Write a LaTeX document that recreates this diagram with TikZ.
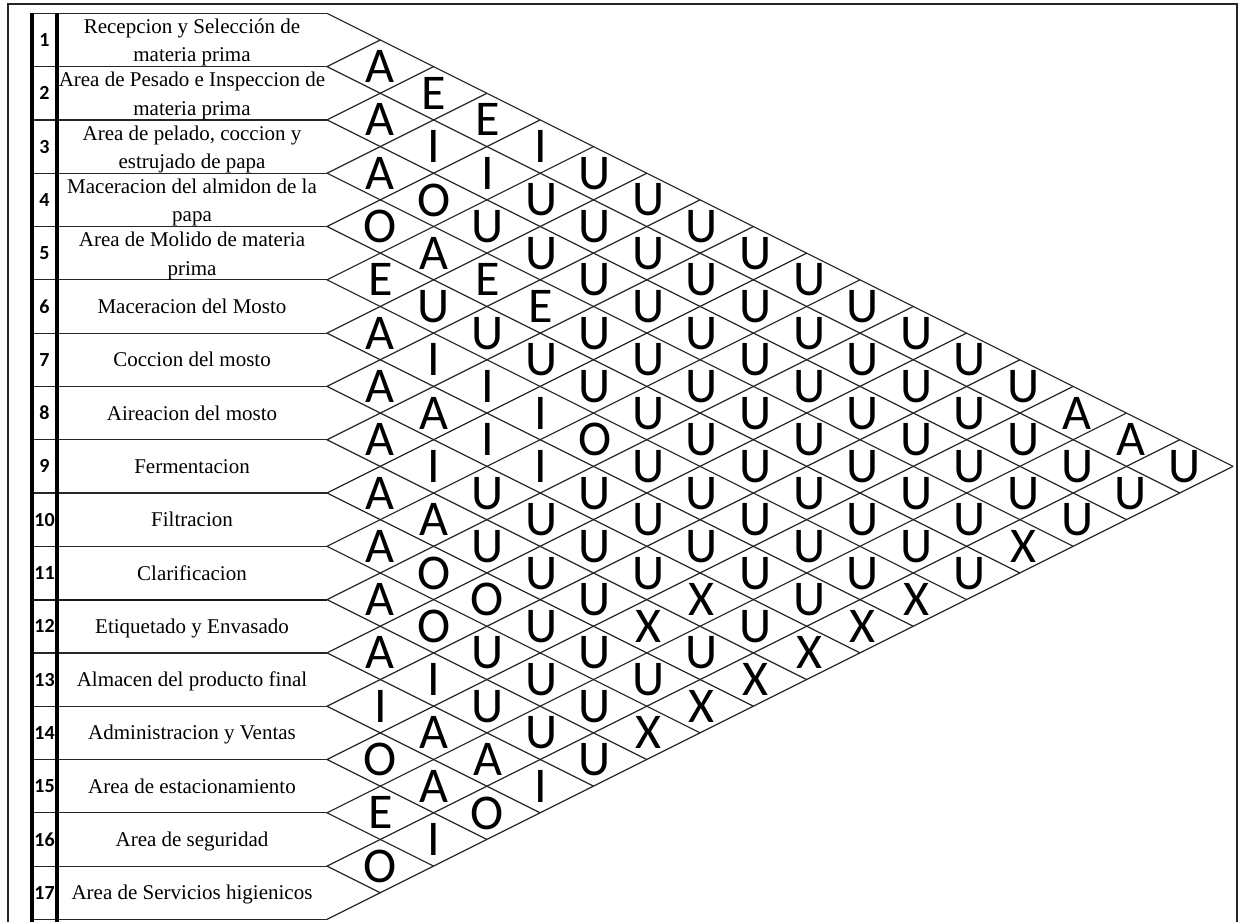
\documentclass[tikz,border=0pt]{standalone}
\usepackage{fontspec}
\setmainfont{Liberation Serif}
\newfontfamily\calib{Carlito}
\begin{document}
\begin{tikzpicture}[x=1pt,y=-1pt]
\def\h{53.3}
\def\yt{13.3}
\def\xl{327}
\tikzset{
 gridline/.style={draw=black!85, line width=1.2pt},
 midline/.style={draw=black!90, line width=2pt},
 frameline/.style={draw=black!85, line width=2pt},
 thickline/.style={draw=black, line width=3.2pt},
 lbl/.style={font=\fontsize{21}{21}\selectfont, anchor=base, inner sep=0pt},
 num/.style={font=\calib\bfseries\fontsize{20}{20}\selectfont, inner sep=0pt},
 rel/.style={font=\calib\fontsize{50}{50}\selectfont, inner sep=0pt, text depth=0pt},
}
\useasboundingbox (0,0) rectangle (1241,921);
% outer frame
\draw[frameline] (8.3,925) -- (8.3,4.3) -- (1237,4.3) -- (1237,925);
% grid: horizontal row lines and the two families of diagonals
\foreach \b in {0,...,17}{
  \pgfmathsetmacro{\yb}{\yt+\h*\b}
  \pgfmathsetmacro{\xu}{\xl+\h*\b}
  \pgfmathsetmacro{\yu}{\yb-\h*\b/2}
  \pgfmathsetmacro{\xd}{\xl+\h*(17-\b)}
  \pgfmathsetmacro{\yd}{\yb+\h*(17-\b)/2}
  \draw[gridline] (32,\yb) -- (\xl,\yb);
  \draw[gridline] (\xu,\yu) -- (\xl,\yb) -- (\xd,\yd);
}
\draw[midline] (32,{\yt+11*\h}) -- (\xl,{\yt+11*\h});
% thick verticals
\draw[thickline] (32,\yt) -- (32,925);
\draw[thickline] (57,\yt) -- (57,925);
% numbers
\foreach \n in {1,...,17}{
  \node[num] (n\n) at (44.5,{\yt+\h*(\n-0.5)}) {\n};
}
% two-line labels
\foreach \n/\la/\lb in {1/{Recepcion y Selección de}/{materia prima},
  2/{Area de Pesado e Inspeccion de}/{materia prima},
  3/{Area de pelado, coccion y}/{estrujado de papa},
  4/{Maceracion del almidon de la}/{papa},
  5/{Area de Molido de materia}/{prima}}{
  \node[lbl] (la\n) at (192,{\yt+\h*(\n-1)+20.3}) {\la};
  \node[lbl] (lb\n) at (192,{\yt+\h*(\n-1)+48.5}) {\lb};
}
% one-line labels
\foreach \n/\la in {6/{Maceracion del Mosto},7/{Coccion del mosto},
  8/{Aireacion del mosto},9/{Fermentacion},10/{Filtracion},
  11/{Clarificacion},12/{Etiquetado y Envasado},
  13/{Almacen del producto final},14/{Administracion y Ventas},
  15/{Area de estacionamiento},16/{Area de seguridad},
  17/{Area de Servicios higienicos}}{
  \node[lbl] (la\n) at (192,{\yt+\h*(\n-1)+33.7}) {\la};
}
% relationship letters, column k = j - i
\foreach \k/\lst in {
  1/{A,A,A,O,E,A,A,A,A,A,A,A,I,O,E,O},
  2/{E,I,O,A,U,I,A,I,A,O,O,I,A,A,I},
  3/{E,I,U,E,U,I,I,U,U,O,U,U,A,O},
  4/{I,U,U,E,U,I,I,U,U,U,U,U,I},
  5/{U,U,U,U,U,O,U,U,U,U,U,U},
  6/{U,U,U,U,U,U,U,U,X,U,X},
  7/{U,U,U,U,U,U,U,X,U,X},
  8/{U,U,U,U,U,U,U,U,X},
  9/{U,U,U,U,U,U,U,X},
  10/{U,U,U,U,U,U,X},
  11/{U,U,U,U,U,X},
  12/{U,U,U,U,U},
  13/{U,U,U,X},
  14/{A,U,U},
  15/{A,U},
  16/{U}}{
  \foreach \L [count=\i] in \lst {
    \node[rel] (r\i-\k) at ({\xl+\h*\k+0.3*(\k-1)},{\yt+\h*(\i-0.5+\k/2)}) {\L};
  }
}
\end{tikzpicture}
\end{document}
